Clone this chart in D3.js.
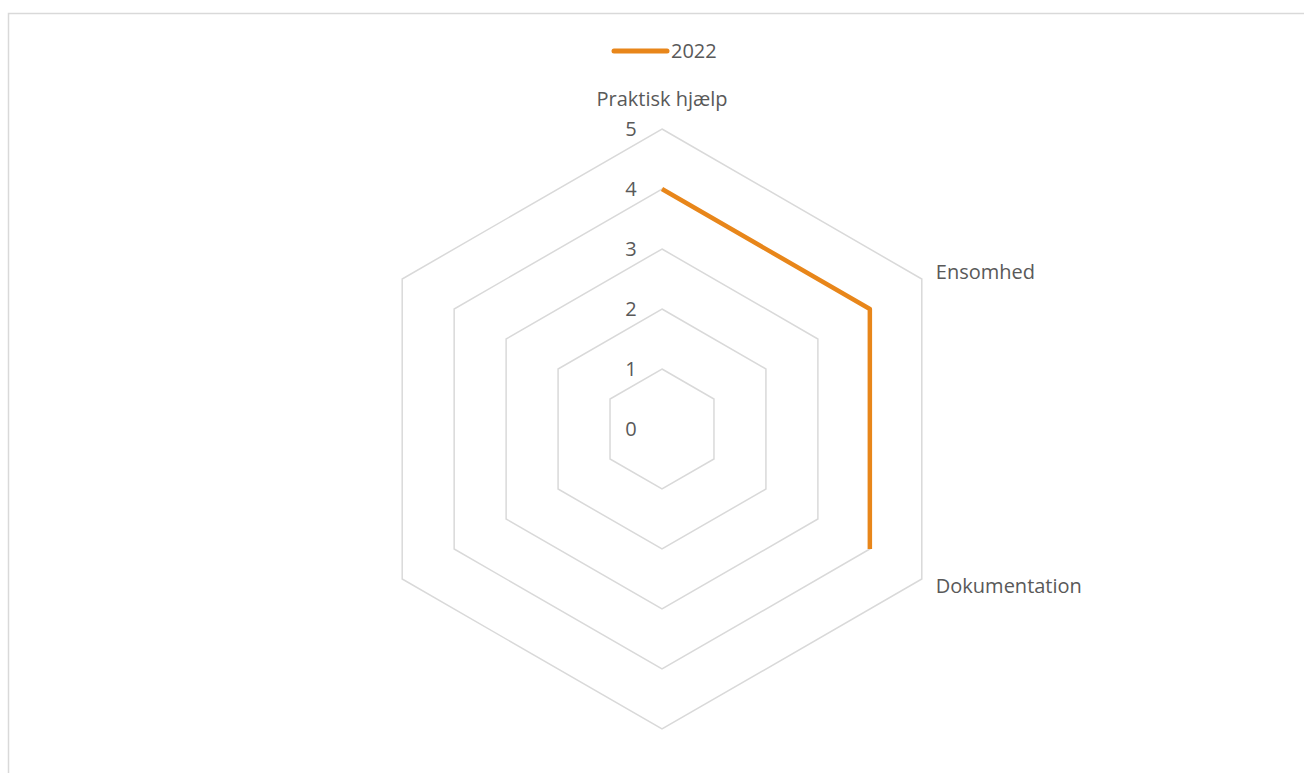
<!DOCTYPE html>
<html>
<head>
<meta charset="utf-8">
<script src="https://cdn.jsdelivr.net/npm/d3@7"></script>
<style>
  body { margin: 0; background: #fff; }
  text { font-family: "Open Sans", "Noto Sans", sans-serif; fill: #595959; }
</style>
</head>
<body>
<div class="chart"></div>
<script>
// data
var categories = ["Praktisk hjælp", "Ensomhed", "Dokumentation", "", "", ""];
var series2022 = [4, 4, 4, null, null, null];
var ticks = [0, 1, 2, 3, 4, 5];
var seriesName = "2022";

var width = 1304, height = 773;
var cx = 662, cy = 429, maxRadius = 300;

var svg = d3.select(".chart").append("svg")
    .attr("width", width)
    .attr("height", height);

// outer border of chart area
svg.append("rect")
    .attr("x", 8.5).attr("y", 13.5)
    .attr("width", 1400).attr("height", 900)
    .attr("fill", "none")
    .attr("stroke", "#d9d9d9")
    .attr("stroke-width", 1.5);

var r = d3.scaleLinear().domain([0, 5]).range([0, maxRadius]);
var angle = d3.scaleLinear().domain([0, categories.length]).range([0, 2 * Math.PI]);

function pt(i, v) {
  var a = angle(i);
  return [cx + r(v) * Math.sin(a), cy - r(v) * Math.cos(a)];
}

var g = svg.append("g");

// grid rings (hexagons)
ticks.forEach(function(t) {
  if (t === 0) return;
  var pts = categories.map(function(c, i) { return pt(i, t); });
  g.append("path")
      .attr("d", d3.line()(pts) + "Z")
      .attr("fill", "none")
      .attr("stroke", "#d9d9d9")
      .attr("stroke-width", 1.5);
});

// tick labels
g.selectAll(".tick")
    .data(ticks)
    .enter().append("text")
    .attr("class", "tick")
    .attr("x", cx - 31)
    .attr("y", function(d) { return cy - r(d); })
    .attr("dy", "0.35em")
    .attr("text-anchor", "middle")
    .style("font-size", "20px")
    .text(function(d) { return d; });

// category labels
categories.forEach(function(c, i) {
  if (!c) return;
  var p = pt(i, 5);
  var a = angle(i);
  var t = g.append("text").style("font-size", "20px").text(c);
  if (i === 0) {
    t.attr("x", p[0]).attr("y", p[1] - 23).attr("text-anchor", "middle");
  } else {
    t.attr("x", p[0] + 14).attr("y", p[1] + (Math.cos(a) > 0 ? 0 : 14)).attr("text-anchor", "start");
  }
});

// series line
var line = d3.line()
    .defined(function(d) { return d != null; })
    .x(function(d, i) { return pt(i, d)[0]; })
    .y(function(d, i) { return pt(i, d)[1]; });

g.append("path")
    .datum(series2022)
    .attr("d", line)
    .attr("fill", "none")
    .attr("stroke", "#E8861A")
    .attr("stroke-width", 4.5)
    .attr("stroke-linejoin", "round");

// legend
var legend = svg.append("g");
legend.append("line")
    .attr("x1", 614).attr("x2", 667)
    .attr("y1", 51).attr("y2", 51)
    .attr("stroke", "#E8861A")
    .attr("stroke-width", 5)
    .attr("stroke-linecap", "round");
legend.append("text")
    .attr("x", 671).attr("y", 51)
    .attr("dy", "0.35em")
    .style("font-size", "20px")
    .text(seriesName);
</script>
</body>
</html>
